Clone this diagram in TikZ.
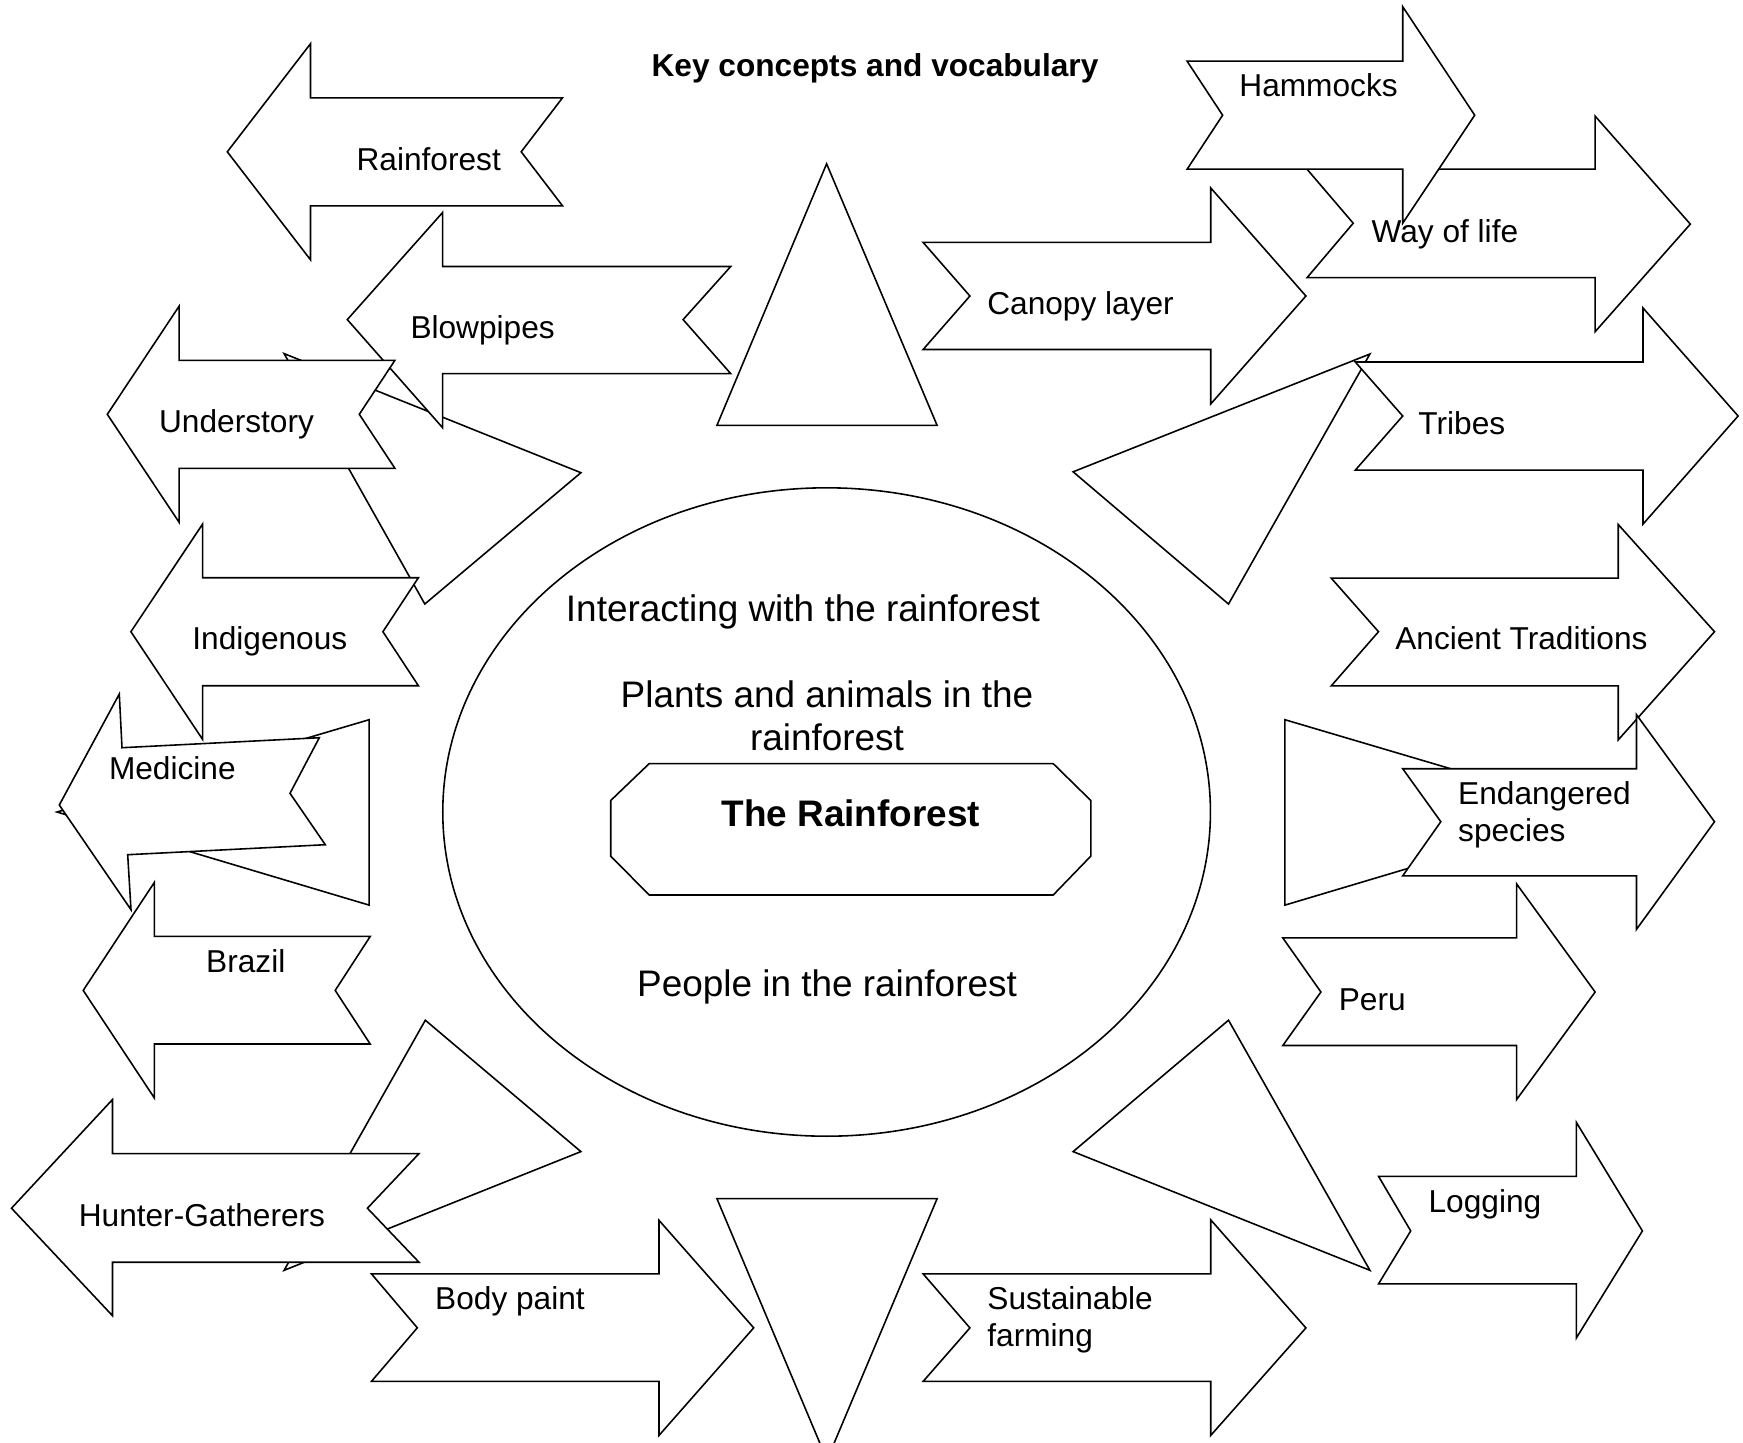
\documentclass[tikz,border=0pt]{standalone}
\usepackage{fontspec}
\setmainfont{Liberation Sans}
\begin{document}
\begin{tikzpicture}[x=0.01cm,y=-0.01cm,
    shp/.style={draw,fill=white,line width=0.45pt},
    lbl/.style={anchor=base west,inner sep=0pt,font=\fontsize{9}{10.4}\selectfont},
    lbltwo/.style={anchor=north west,inner sep=0pt,align=left,font=\fontsize{9}{10.4}\selectfont},
    mid/.style={inner sep=0pt,font=\fontsize{10.5}{12.1}\selectfont}]
   	\clip (0,0) rectangle (1743,1442);
   	\fill[white] (0,0) rectangle (1743,1442);

	%Ellipse and octagon in the middle
   	\draw[line width=0.45pt] (826.6,812) ellipse [x radius=3.836cm, y radius=3.24cm];
   	\draw[shp] (649.2,763.6) -- (1053.2,763.6) -- (1090.8,800.5) -- (1090.8,856.1)
   		-- (1053.2,895) -- (649.2,895) -- (610.7,856.1) -- (610.7,800.5) -- cycle;

	%The eight triangles round the ellipse
   	\draw[shp] (826.6,163.8) -- (937.1,425.4) -- (716.9,425.4) -- cycle; %top
   	\draw[shp] (827,1460) -- (937.1,1198.6) -- (716.9,1198.6) -- cycle; %bottom
   	\draw[shp] (57,812) -- (369.1,719.7) -- (369.1,905.1) -- cycle; %left
   	\draw[shp] (1597,812) -- (1284.9,719.7) -- (1284.9,905.1) -- cycle; %right
   	\draw[shp] (284.1,353.6) -- (580.9,472.7) -- (424.8,604) -- cycle; %top left
   	\draw[shp] (1369.9,354) -- (1073.1,471.8) -- (1228.5,604) -- cycle; %top right
   	\draw[shp] (425.3,1020.2) -- (580.9,1151.6) -- (284.1,1270.3) -- cycle; %bottom left
   	\draw[shp] (1228.5,1020.2) -- (1073.1,1151.6) -- (1369.9,1270.3) -- cycle; %bottom right

	%Arrows on the left, pointing left
   	\draw[shp] (227.3,151.8) -- (310.5,43.7) -- (310.5,97.8) -- (562.5,97.8) -- (521.2,151.8)
   		-- (562.5,205.8) -- (310.5,205.8) -- (310.5,259.8) -- cycle; %Rainforest
   	\draw[shp] (347.3,319.6) -- (442.6,212.5) -- (442.6,266.5) -- (730.7,266.5) -- (683.1,319.6)
   		-- (730.7,373.6) -- (442.6,373.6) -- (442.6,427.7) -- cycle; %Blowpipes
   	\draw[shp] (107.3,414.3) -- (179.1,306.2) -- (179.1,360.3) -- (394.9,360.3) -- (359.3,414.3)
   		-- (394.9,468.3) -- (179.1,468.3) -- (179.1,522.3) -- cycle; %Understory
   	\draw[shp] (130.9,631.7) -- (202.6,524.1) -- (202.6,577.7) -- (418.4,577.7) -- (382.9,631.7)
   		-- (418.4,685.7) -- (202.6,685.7) -- (202.6,739.4) -- cycle; %Indigenous
   	\draw[shp] (59.3,805) -- (119.3,694) -- (122,747.7) -- (319.3,737.7) -- (290,793.3)
   		-- (325.3,844.7) -- (127.7,854.7) -- (131,909.7) -- cycle; %Medicine
   	\draw[shp] (83.2,990.4) -- (154.4,882.3) -- (154.4,936.4) -- (370.2,936.4) -- (335.2,990.4)
   		-- (370.2,1044) -- (154.4,1044) -- (154.4,1098) -- cycle; %Brazil
   	\draw[shp] (11.5,1208.2) -- (112.5,1099.5) -- (112.5,1153.6) -- (419,1153.6) -- (367.4,1208.2)
   		-- (419,1262.2) -- (112.5,1262.2) -- (112.5,1315.7) -- cycle; %Hunter-Gatherers

	%Arrows pointing right
   	\draw[shp] (371.4,1273.8) -- (659,1273.8) -- (659,1220.3) -- (753.7,1327.8) -- (659,1435.4)
   		-- (659,1381.4) -- (371.4,1381.4) -- (417.3,1327.8) -- cycle; %Body paint
   	\draw[shp] (1307,169.2) -- (1595.1,169.2) -- (1595.1,116.1) -- (1690.3,224.1) -- (1595.1,331.7)
   		-- (1595.1,277.7) -- (1307,277.7) -- (1353.2,223.2) -- cycle; %Way of life
   	\draw[shp] (1187.1,61.2) -- (1402.7,61.2) -- (1402.7,6.7) -- (1474.7,115.2) -- (1402.7,223.2)
   		-- (1402.7,169.2) -- (1187.1,169.2) -- (1222.6,115.2) -- cycle; %Hammocks
   	\draw[shp] (923.1,242.4) -- (1210.7,242.4) -- (1210.7,187.9) -- (1305.9,296) -- (1210.7,404)
   		-- (1210.7,349.5) -- (923.1,349.5) -- (969.9,296) -- cycle; %Canopy layer
   	\draw[shp] (1355.3,362) -- (1643,362) -- (1643,308) -- (1738.1,416) -- (1643,524.1)
   		-- (1643,470.1) -- (1355.3,470.1) -- (1402.7,416) -- cycle; %Tribes
   	\draw[shp] (1331.2,578.1) -- (1618.2,578.1) -- (1618.2,524.5) -- (1714.5,631.7) -- (1618.2,739.9)
   		-- (1618.2,685.9) -- (1331.2,685.9) -- (1378.5,631.7) -- cycle; %Ancient Traditions
   	\draw[shp] (1402.7,768.7) -- (1636.5,768.7) -- (1636.5,714.7) -- (1714.5,821.7) -- (1636.5,929.3)
   		-- (1636.5,875.8) -- (1402.7,875.8) -- (1440.8,821.7) -- cycle; %Endangered species
   	\draw[shp] (1282.8,937.9) -- (1516.6,937.9) -- (1516.6,883.9) -- (1595.1,992) -- (1516.6,1099.5)
   		-- (1516.6,1045.5) -- (1282.8,1045.5) -- (1320.9,992) -- cycle; %Peru
   	\draw[shp] (1378.5,1176.3) -- (1576.3,1176.3) -- (1576.3,1122.3) -- (1642.4,1230.9) -- (1576.3,1338)
   		-- (1576.3,1283.9) -- (1378.5,1283.9) -- (1410.7,1230.9) -- cycle; %Logging
   	\draw[shp] (923.1,1273.8) -- (1210.7,1273.8) -- (1210.7,1219.8) -- (1305.9,1327.9) -- (1210.7,1435.4)
   		-- (1210.7,1381.4) -- (923.1,1381.4) -- (969.9,1327.9) -- cycle; %Sustainable farming

	%Texts
   	\node[mid,anchor=base,font=\fontsize{9}{10.4}\selectfont\bfseries] (title) at (875,76) {Key concepts and vocabulary};
   	\node[mid,anchor=base] (interact) at (803,621.6) {Interacting with the rainforest};
   	\node[mid,anchor=north,align=center] (plants) at (827,680.4) {Plants and animals in the\\rainforest};
   	\node[mid,anchor=base,font=\fontsize{10.5}{12.1}\selectfont\bfseries] (core) at (850.8,826.2) {The Rainforest};
   	\node[mid,anchor=base] (people) at (827,996.9) {People in the rainforest};

   	\node[lbl] (rainforest) at (355.9,170.5) {Rainforest};
   	\node[lbl] (blowpipes) at (409.8,338) {Blowpipes};
   	\node[lbl] (understory) at (158.4,432) {Understory};
   	\node[lbl] (indigenous) at (191.7,649.5) {Indigenous};
   	\node[lbl] (medicine) at (108.3,779) {Medicine};
   	\node[lbl] (brazil) at (205.5,972) {Brazil};
   	\node[lbl] (hunters) at (78.1,1226) {Hunter-Gatherers};
   	\node[lbl] (bodypaint) at (434.5,1309) {Body paint};
   	\node[lbl] (hammocks) at (1238.7,96) {Hammocks};
   	\node[lbl] (wayoflife) at (1370.9,242) {Way of life};
   	\node[lbl] (canopy) at (986.6,314.7) {Canopy layer};
   	\node[lbl] (tribes) at (1417.7,434) {Tribes};
   	\node[lbl] (ancient) at (1394.6,649.5) {Ancient Traditions};
   	\node[lbltwo] (endangered) at (1457.5,781) {Endangered\\species};
   	\node[lbl] (peru) at (1338.1,1010.6) {Peru};
   	\node[lbl] (logging) at (1427.9,1212) {Logging};
   	\node[lbltwo] (sustainable) at (986.7,1286) {Sustainable\\farming};
\end{tikzpicture}
\end{document}
